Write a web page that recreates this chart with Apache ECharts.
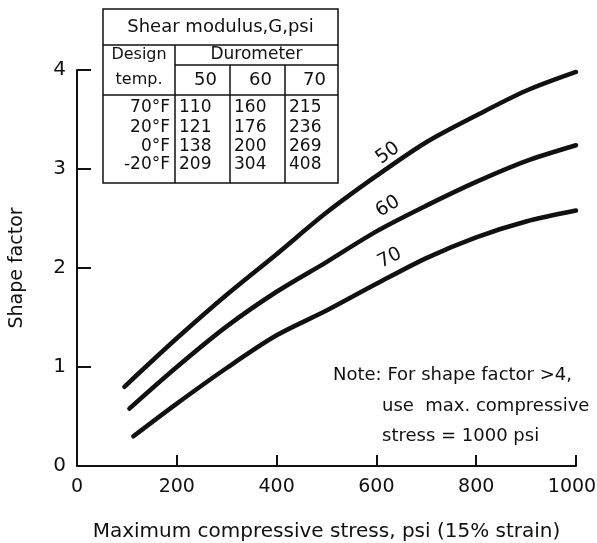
<!DOCTYPE html>
<html>
<head>
<meta charset="utf-8">
<script src="https://cdn.jsdelivr.net/npm/echarts@6/dist/echarts.min.js"></script>
<style>
  html, body { margin: 0; padding: 0; background: #fff; }
  #chart { width: 597px; height: 543px; }
</style>
</head>
<body>
<div id="chart"></div>
<script>
// curve data: stress (psi) -> shape factor
var stress50 = [95, 200, 300, 400, 500, 600, 700, 800, 900, 1000];
var factor50 = [0.80, 1.29, 1.73, 2.14, 2.56, 2.93, 3.27, 3.54, 3.79, 3.98];
var stress60 = [105, 200, 300, 400, 500, 600, 700, 800, 900, 1000];
var factor60 = [0.58, 1.00, 1.41, 1.76, 2.06, 2.37, 2.63, 2.87, 3.08, 3.24];
var stress70 = [113, 200, 300, 400, 500, 600, 700, 800, 900, 1000];
var factor70 = [0.30, 0.63, 0.99, 1.32, 1.57, 1.84, 2.10, 2.31, 2.47, 2.58];

// shear modulus table
var tableTitle = 'Shear modulus,G,psi';
var durometers = ['50', '60', '70'];
var designTemps = ['70°F', '20°F', '0°F', '-20°F'];
var shearModulus = [
    [110, 160, 215],
    [121, 176, 236],
    [138, 200, 269],
    [209, 304, 408]
];

var noteLines = ['Note: For shape factor >4,', 'use  max. compressive', 'stress = 1000 psi'];

var FONT = 'DejaVu Sans';
var INK = '#111';

function pairs(xs, ys){
    var out = [];
    for(var i = 0; i < xs.length; i++){
        out.push([xs[i], ys[i]]);
    }
    return out;
}

function curve(name, xs, ys, labelAt, rot){
    return {
        name: name,
        type: 'line',
        data: pairs(xs, ys),
        smooth: 0.3,
        showSymbol: false,
        symbol: 'none',
        lineStyle: { color: INK, width: 4.5, cap: 'round' },
        silent: true,
        markPoint: {
            symbol: 'circle',
            symbolSize: 1,
            itemStyle: { color: 'rgba(0,0,0,0)' },
            label: {
                show: true,
                position: 'inside',
                formatter: name,
                rotate: rot,
                color: INK,
                fontFamily: FONT,
                fontSize: 19
            },
            data: [{ coord: labelAt }]
        }
    };
}

// table drawn with graphic elements
var colX = [103, 175, 230, 285, 338];
var rowY = [9, 45, 65, 95, 183];
var dataRowY = [108, 128, 147, 165];
var tableEls = [];
function hline(x1, x2, y){
    tableEls.push({ type: 'line', shape: { x1: x1, y1: y, x2: x2, y2: y }, style: { stroke: INK, lineWidth: 1.5 } });
}
function vline(x, y1, y2){
    tableEls.push({ type: 'line', shape: { x1: x, y1: y1, x2: x, y2: y2 }, style: { stroke: INK, lineWidth: 1.5 } });
}
function txt(s, x, y, align, size){
    tableEls.push({
        type: 'text', x: x, y: y,
        style: { text: s, fill: INK, font: size + 'px ' + FONT, align: align, verticalAlign: 'middle' }
    });
}
tableEls.push({ type: 'rect', shape: { x: colX[0], y: rowY[0], width: colX[4] - colX[0], height: rowY[4] - rowY[0] },
    style: { fill: '#fff', stroke: INK, lineWidth: 1.5 } });
hline(colX[0], colX[4], rowY[1]);
hline(colX[1], colX[4], rowY[2]);
hline(colX[0], colX[4], rowY[3]);
vline(colX[1], rowY[1], rowY[4]);
vline(colX[2], rowY[2], rowY[4]);
vline(colX[3], rowY[2], rowY[4]);
txt(tableTitle, (colX[0] + colX[4]) / 2, (rowY[0] + rowY[1]) / 2, 'center', 18);
txt('Design', (colX[0] + colX[1]) / 2, (rowY[1] + rowY[2]) / 2, 'center', 16);
txt('Durometer', (colX[1] + colX[4]) / 2, (rowY[1] + rowY[2]) / 2, 'center', 17);
txt('temp.', (colX[0] + colX[1]) / 2, (rowY[2] + rowY[3]) / 2, 'center', 16);
for(var c = 0; c < durometers.length; c++){
    txt(durometers[c], (colX[c + 1] + colX[c + 2]) / 2 + 3, (rowY[2] + rowY[3]) / 2, 'center', 18);
}
for(var r = 0; r < designTemps.length; r++){
    txt(designTemps[r], colX[1] - 5, dataRowY[r], 'right', 17);
    for(var k = 0; k < 3; k++){
        txt(String(shearModulus[r][k]), colX[k + 1] + 4, dataRowY[r], 'left', 17);
    }
}

var noteEls = [
    { type: 'text', x: 333, y: 375, style: { text: noteLines[0], fill: INK, font: '18px ' + FONT, verticalAlign: 'middle' } },
    { type: 'text', x: 382, y: 406, style: { text: noteLines[1], fill: INK, font: '18px ' + FONT, verticalAlign: 'middle' } },
    { type: 'text', x: 382, y: 436, style: { text: noteLines[2], fill: INK, font: '18px ' + FONT, verticalAlign: 'middle' } }
];

var chart = echarts.init(document.getElementById('chart'), null, { renderer: 'canvas' });
var option = {
    backgroundColor: '#fff',
    animation: false,
    textStyle: { fontFamily: FONT, color: INK },
    grid: { left: 77, right: 21, top: 70, bottom: 77, containLabel: false, outerBoundsMode: 'none' },
    xAxis: {
        type: 'value',
        min: 0, max: 1000, interval: 200,
        name: 'Maximum compressive stress, psi (15% strain)',
        nameLocation: 'middle',
        nameGap: 56,
        nameTextStyle: { fontSize: 20, color: INK, fontFamily: FONT },
        axisLine: { show: true, lineStyle: { color: INK, width: 2 } },
        axisTick: { show: true, inside: true, length: 11, lineStyle: { color: INK, width: 2 } },
        axisLabel: {
            fontSize: 19, color: INK, margin: 12, fontFamily: FONT,
            formatter: function(v){ return v === 1000 ? '{last|1000}' : String(v); },
            rich: { last: { fontSize: 19, fontFamily: FONT, color: INK, padding: [0, 8, 0, 0] } }
        },
        splitLine: { show: false }
    },
    yAxis: {
        type: 'value',
        min: 0, max: 4, interval: 1,
        name: 'Shape factor',
        nameLocation: 'middle',
        nameGap: 50,
        nameTextStyle: { fontSize: 19, color: INK, fontFamily: FONT },
        axisLine: { show: true, lineStyle: { color: INK, width: 2 } },
        axisTick: { show: true, inside: true, length: 14, lineStyle: { color: INK, width: 2 } },
        axisLabel: { fontSize: 20, color: INK, margin: 11, fontFamily: FONT },
        splitLine: { show: false }
    },
    series: [
        curve('50', stress50, factor50, [623, 3.16], 36),
        curve('60', stress60, factor60, [623, 2.62], 31),
        curve('70', stress70, factor70, [627, 2.10], 27)
    ],
    graphic: tableEls.concat(noteEls)
};
chart.setOption(option);
</script>
</body>
</html>
